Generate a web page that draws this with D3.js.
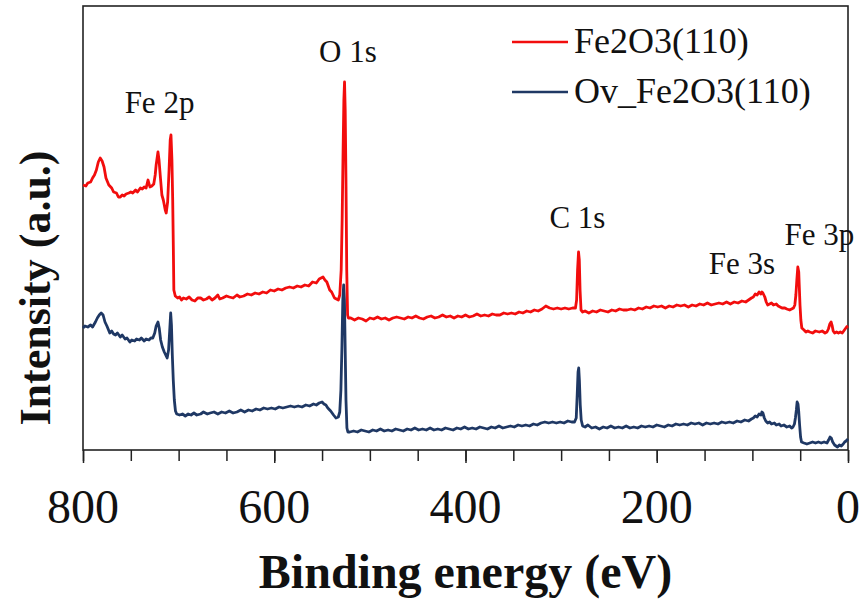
<!DOCTYPE html>
<html>
<head>
<meta charset="utf-8">
<script src="https://cdn.jsdelivr.net/npm/d3@7"></script>
<style>
  svg text { font-family: 'Liberation Serif', serif !important; }
</style>
</head>
<body style="margin:0;background:#fff">
<svg id="xps" width="861" height="604"></svg>
<script>
// XPS survey spectra: [binding energy (eV), intensity (a.u.)]
var fe2o3 = [
  [800, 265], [797, 264], [795, 267], [792, 268], [790, 272], [788, 275], [786, 280],
  [784, 288], [782, 292], [780, 289], [778, 283], [776, 272], [773, 265], [770, 262],
  [768, 258], [765, 257], [763, 253], [761, 253], [759, 255], [757, 254], [755, 256],
  [752, 257], [750, 258], [748, 257], [745, 260], [743, 258], [740, 262], [738, 261],
  [736, 263], [734, 262], [732, 270], [730, 263], [728, 264], [726, 266], [724.5, 275],
  [723.5, 285], [721.6, 298], [720.5, 290], [719, 272], [717.5, 255], [716, 250],
  [714, 240], [713, 237], [711.5, 248], [710, 280], [708.8, 310], [708, 315], [707, 290],
  [706.2, 250], [705.5, 200], [705, 160], [703.5, 154], [701, 152], [699, 153], [697, 150],
  [695, 152], [692, 151], [689, 153], [686, 150], [683, 149], [680, 152], [677, 152],
  [674, 150], [671, 151], [668, 153], [665, 150], [662, 152], [659, 155], [657, 151],
  [654, 152], [650, 154], [647, 153], [643, 152], [639, 155], [636, 153], [632, 154],
  [628, 156], [624, 155], [620, 157], [616, 156], [612, 158], [608, 157], [604, 160],
  [600, 159], [596, 161], [592, 160], [588, 162], [584, 163], [580, 162], [576, 164],
  [572, 163], [568, 165], [564, 164], [560, 168], [556, 167], [553, 171], [551, 172],
  [549, 173], [547, 170], [545, 168], [542, 160], [540, 158], [537, 152], [535, 151],
  [533, 150], [531.5, 155], [530, 180], [529, 230], [528, 300], [527.2, 350],
  [526.5, 368], [525.8, 340], [525, 270], [524.2, 180], [523.3, 135], [522.5, 132],
  [520, 132], [516, 130], [512, 132], [508, 131], [504, 129], [500, 132], [496, 131],
  [492, 133], [488, 131], [484, 132], [480, 130], [476, 132], [472, 133], [468, 132],
  [464, 131], [460, 133], [456, 132], [452, 134], [448, 132], [444, 131], [440, 133],
  [436, 134], [432, 132], [428, 133], [424, 135], [420, 133], [416, 134], [412, 132],
  [408, 134], [404, 133], [400, 135], [396, 133], [392, 134], [388, 136], [384, 134],
  [380, 135], [376, 134], [372, 136], [368, 135], [364, 135], [360, 137], [356, 136],
  [352, 137], [348, 136], [344, 138], [340, 137], [336, 139], [332, 138], [328, 140],
  [324, 139], [320, 141], [316, 144], [312, 142], [308, 141], [304, 142], [300, 141],
  [296, 142], [292, 141], [288, 142], [285, 142], [283.8, 150], [282.8, 180],
  [281.8, 198], [281, 190], [280.2, 160], [279.2, 140], [277.5, 138], [275, 139],
  [271, 137], [267, 139], [263, 138], [259, 140], [255, 139], [251, 138], [247, 140],
  [243, 139], [239, 141], [235, 140], [231, 140], [227, 141], [223, 140], [219, 142],
  [215, 141], [211, 143], [207, 142], [203, 144], [199, 143], [195, 144], [191, 142],
  [187, 144], [183, 143], [179, 145], [175, 144], [171, 145], [167, 143], [163, 145],
  [159, 144], [155, 146], [151, 145], [147, 147], [143, 145], [139, 146], [135, 147],
  [131, 146], [127, 148], [123, 146], [119, 148], [115, 147], [111, 149], [107, 148],
  [104, 150], [101, 152], [99, 153], [97, 156], [95, 155], [93, 158], [91, 156],
  [90, 158], [89, 157], [87, 153], [85.5, 148], [84, 145], [82, 146], [80, 147],
  [78, 145], [75, 146], [73, 144], [71, 143], [69, 142], [66, 142], [64, 141],
  [61, 140], [59, 141], [57, 142], [55.6, 145], [54.5, 155], [53.5, 170], [52.5, 183],
  [51.5, 178], [51, 165], [50.2, 145], [49.3, 130], [48.3, 122], [46, 120], [44, 118],
  [42, 119], [40, 118], [37, 117], [34, 119], [30, 118], [27, 119], [24, 117], [22, 118],
  [20.5, 121], [19, 126], [17.7, 128], [16.5, 124], [15.5, 119], [14, 117], [12, 118],
  [10, 117], [8, 118], [6, 117], [4.5, 119], [3, 121], [1.5, 123], [0, 124]
];

var ovFe2o3 = [
  [800, 122], [798, 124], [795, 123], [792, 125], [790, 123], [787, 128], [785, 132],
  [783, 135], [781, 137], [779, 135], [777, 128], [775, 124], [772, 117], [770, 119],
  [768, 116], [766, 115], [764, 117], [761, 113], [759, 115], [756, 111], [754, 112],
  [751, 108], [749, 110], [746, 109], [744, 111], [741, 110], [739, 112], [736, 109],
  [734, 111], [731, 110], [729, 112], [727, 112], [725, 117], [723.5, 124], [721.6, 128],
  [720.3, 122], [718.8, 110], [717, 103], [715, 98], [713, 94], [712, 92], [710.5, 100],
  [709.3, 120], [708.3, 137], [707.5, 125], [706.6, 95], [705.6, 70], [704.5, 50],
  [703.3, 39], [702, 36], [699, 35], [696, 36], [693, 34], [690, 36], [687, 35],
  [684, 37], [681, 35], [677, 36], [674, 38], [670, 36], [667, 37], [663, 38],
  [659, 36], [655, 38], [651, 37], [647, 39], [643, 37], [639, 38], [635, 40],
  [631, 38], [627, 40], [623, 39], [619, 41], [615, 40], [611, 42], [607, 41],
  [603, 42], [599, 41], [595, 43], [591, 42], [587, 43], [583, 44], [579, 43],
  [575, 44], [571, 43], [567, 45], [563, 44], [559, 46], [556, 45], [553, 47],
  [550, 48], [548, 46], [546, 45], [544, 42], [541, 39], [538, 35], [535.5, 32],
  [533, 33], [531.5, 38], [530.3, 60], [529.3, 100], [528.3, 150], [527.4, 165],
  [526.6, 150], [525.8, 100], [525, 50], [524, 22], [523, 18], [521, 18], [517, 19],
  [513, 18], [509, 20], [505, 19], [501, 18], [497, 20], [493, 19], [489, 21],
  [485, 19], [481, 20], [477, 19], [473, 21], [469, 20], [465, 19], [461, 21],
  [457, 20], [453, 22], [449, 20], [445, 21], [441, 20], [437, 22], [433, 20],
  [429, 21], [425, 20], [421, 22], [417, 21], [413, 20], [409, 22], [405, 21],
  [401, 23], [397, 21], [393, 22], [389, 21], [385, 23], [381, 22], [377, 21],
  [373, 23], [369, 22], [365, 24], [361, 22], [357, 23], [353, 24], [349, 23],
  [345, 25], [341, 24], [337, 25], [333, 24], [329, 26], [325, 25], [321, 27],
  [317, 28], [313, 27], [309, 28], [305, 27], [301, 28], [297, 27], [293, 29],
  [289, 28], [286, 28], [284.2, 32], [283.2, 55], [282.3, 78], [281.6, 82],
  [280.9, 70], [280, 45], [279, 30], [277.5, 24], [275, 23], [272, 25], [268, 22],
  [264, 23], [260, 21], [256, 23], [252, 22], [248, 24], [244, 22], [240, 23],
  [236, 22], [232, 24], [228, 22], [224, 23], [220, 22], [216, 24], [212, 23],
  [208, 24], [204, 23], [200, 25], [196, 24], [192, 23], [188, 25], [184, 24],
  [180, 26], [176, 25], [172, 26], [168, 25], [164, 27], [160, 26], [156, 27],
  [152, 25], [148, 27], [144, 26], [140, 27], [136, 26], [132, 28], [128, 27],
  [124, 28], [120, 27], [116, 29], [112, 28], [108, 30], [104, 29], [101, 31],
  [99, 32], [97, 34], [95, 33], [93, 36], [91, 35], [90, 38], [89, 37], [87.5, 32],
  [86, 29], [84, 27], [82, 28], [80, 26], [77, 27], [75, 25], [72, 26], [70, 24],
  [67, 25], [64, 23], [61, 24], [59, 22], [57.5, 23], [56, 26], [55, 32], [54, 40],
  [53.2, 48], [52.3, 46], [51.5, 38], [50.6, 25], [49.6, 13], [48.6, 8], [46, 7],
  [43, 6], [40, 7], [37, 8], [34, 7], [31, 8], [28, 7], [25, 8], [22, 7], [20.3, 10],
  [18.8, 13], [17.5, 12], [16, 8], [14, 5], [12.5, 4], [11, 3], [9, 5], [7, 4],
  [5, 6], [3.5, 8], [2, 9], [1, 10], [0, 11]
];

var seriesNames = ["Fe2O3(110)", "Ov_Fe2O3(110)"];
var seriesColors = ["#f20d0d", "#1f3864"];
var majorTicks = [800, 600, 400, 200, 0];
var minorTicks = d3.range(0, 801, 50);

// peak labels: [text, binding energy the label sits at, intensity of the baseline]
var peakLabels = [
  ["Fe 2p", 720, 337],
  ["O 1s", 523, 388],
  ["C 1s", 283, 222],
  ["Fe 3s", 111, 176],
  ["Fe 3p", 30, 205]
];

var width = 861, height = 604;
var margin = { top: 6, right: 13, bottom: 154, left: 83 };

var svg = d3.select("#xps");

// every label gets the same serif face
function serifText(sel, size, bold) {
    return sel
        .attr("font-family", "Liberation Serif")
        .style("font-family", "'Liberation Serif', serif", "important")
        .style("font-size", size + "px")
        .style("font-weight", bold ? "bold" : "normal")
        .style("fill", "#111");
}

var x = d3.scaleLinear()
    .domain([800, 0])
    .range([margin.left, width - margin.right]);

var y = d3.scaleLinear()
    .domain([0, 444])
    .range([height - margin.bottom, margin.top]);

// minor ticks first, then major ticks
var xMinor = svg.append("g")
    .attr("transform", "translate(0," + (height - margin.bottom) + ")")
    .call(d3.axisBottom(x).tickValues(minorTicks).tickSize(11).tickFormat(""));
xMinor.select(".domain").remove();
xMinor.selectAll("text").remove();
xMinor.selectAll("line").attr("stroke", "#222").attr("stroke-width", 1.5);

var xMajor = svg.append("g")
    .attr("transform", "translate(0," + (height - margin.bottom) + ")")
    .call(d3.axisBottom(x).tickValues(majorTicks).tickSize(13).tickFormat(""));
xMajor.select(".domain").remove();
xMajor.selectAll("text").remove();
xMajor.selectAll("line").attr("stroke", "#222").attr("stroke-width", 1.5);

// tick labels placed through the same scale
svg.selectAll(".xlabel")
    .data(majorTicks)
    .enter().append("text")
    .attr("class", "xlabel")
    .attr("x", function(d) { return x(d); })
    .attr("y", 523)
    .attr("text-anchor", "middle")
    .text(function(d) { return d; })
    .call(serifText, 48, false);

// plot frame
svg.append("rect")
    .attr("x", x(800))
    .attr("y", y(444))
    .attr("width", x(0) - x(800))
    .attr("height", y(0) - y(444))
    .attr("fill", "none")
    .attr("stroke", "#222")
    .attr("stroke-width", 1.6);

var line = d3.line()
    .x(function(d) { return x(d[0]); })
    .y(function(d) { return y(d[1]); });

[ovFe2o3, fe2o3].forEach(function(s, i) {
    svg.append("path")
        .datum(s)
        .attr("fill", "none")
        .attr("stroke", seriesColors[1 - i])
        .attr("stroke-width", 2.8)
        .attr("stroke-linejoin", "round")
        .attr("d", line);
});

// peak labels
svg.selectAll(".peak")
    .data(peakLabels)
    .enter().append("text")
    .attr("class", "peak")
    .attr("x", function(d) { return x(d[1]); })
    .attr("y", function(d) { return y(d[2]); })
    .attr("text-anchor", "middle")
    .text(function(d) { return d[0]; })
    .call(serifText, 31, false);

// legend
var legend = svg.append("g").attr("transform", "translate(512,42)");
seriesNames.forEach(function(name, i) {
    var row = legend.append("g").attr("transform", "translate(0," + (i * 50) + ")");
    row.append("line")
        .attr("x1", 0).attr("x2", 56)
        .attr("stroke", seriesColors[i])
        .attr("stroke-width", 2.6);
    row.append("text")
        .attr("x", 62)
        .attr("y", 11)
        .text(name)
        .call(serifText, 36, false);
});

// axis titles
svg.append("text")
    .attr("x", (x(800) + x(0)) / 2)
    .attr("y", 588)
    .attr("text-anchor", "middle")
    .text("Binding energy (eV)")
    .call(serifText, 48, true);

svg.append("text")
    .attr("transform", "translate(50," + ((y(0) + y(444)) / 2 + 60) + ") rotate(-90)")
    .attr("text-anchor", "middle")
    .text("Intensity (a.u.)")
    .call(serifText, 44, true);
</script>
</body>
</html>
